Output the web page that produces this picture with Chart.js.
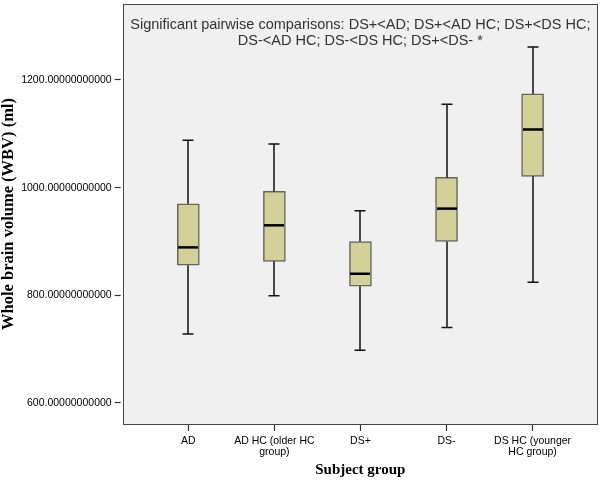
<!DOCTYPE html>
<html>
<head>
<meta charset="utf-8">
<script src="https://cdn.jsdelivr.net/npm/chart.js@4"></script>
<style>
body { margin: 0; background: #fff; }
#wrap { width: 600px; height: 482px; }
</style>
</head>
<body>
<div id="wrap"><canvas id="boxChart"></canvas></div>
<script>
const groups = ["AD", ["AD HC (older HC", "group)"], "DS+", "DS-", ["DS HC (younger", "HC group)"]];
const whiskerMin = [728, 799, 698, 740, 824];
const q1 = [856, 863, 817, 900, 1021];
const median = [889, 930, 840, 961, 1108];
const q3 = [970, 993, 900, 1019, 1174];
const whiskerMax = [1088, 1081, 957, 1155, 1261];
const yTicks = [600, 800, 1000, 1200];
const note = ["Significant pairwise comparisons: DS+<AD; DS+<AD HC; DS+<DS HC;", "DS-<AD HC; DS-<DS HC; DS+<DS- *"];

// background, frame, whiskers, medians and the note inside the plot
const boxExtras = {
    id: "boxExtras",
    beforeDraw(chart) {
        const a = chart.chartArea, ctx = chart.ctx;
        ctx.save();
        ctx.fillStyle = "#f0f0f0";
        ctx.fillRect(a.left, a.top, a.right - a.left, a.bottom - a.top);
        ctx.restore();
    },
    afterDatasetsDraw(chart) {
        const ctx = chart.ctx, x = chart.scales.x, y = chart.scales.y;
        const half = 11, cap = 5.5;
        ctx.save();
        groups.forEach((g, i) => {
            const px = Math.round(x.getPixelForValue(i));
            ctx.strokeStyle = "#111";
            ctx.lineWidth = 1.5;
            ctx.beginPath();
            ctx.moveTo(px, y.getPixelForValue(q3[i]));
            ctx.lineTo(px, y.getPixelForValue(whiskerMax[i]));
            ctx.moveTo(px, y.getPixelForValue(q1[i]));
            ctx.lineTo(px, y.getPixelForValue(whiskerMin[i]));
            ctx.moveTo(px - cap, y.getPixelForValue(whiskerMax[i]));
            ctx.lineTo(px + cap, y.getPixelForValue(whiskerMax[i]));
            ctx.moveTo(px - cap, y.getPixelForValue(whiskerMin[i]));
            ctx.lineTo(px + cap, y.getPixelForValue(whiskerMin[i]));
            ctx.stroke();
            ctx.lineWidth = 2.5;
            ctx.strokeStyle = "#000";
            ctx.beginPath();
            ctx.moveTo(px - half + 1, y.getPixelForValue(median[i]));
            ctx.lineTo(px + half - 1, y.getPixelForValue(median[i]));
            ctx.stroke();
        });
        ctx.restore();
    },
    afterDraw(chart) {
        const a = chart.chartArea, ctx = chart.ctx;
        ctx.save();
        ctx.strokeStyle = "#444";
        ctx.lineWidth = 1;
        ctx.strokeRect(Math.round(a.left) + 0.5, Math.round(a.top) + 0.5, Math.round(a.right - a.left) - 1, Math.round(a.bottom - a.top));
        ctx.fillStyle = "#333";
        ctx.font = "14.5px 'Liberation Sans', Arial, sans-serif";
        ctx.textAlign = "center";
        ctx.textBaseline = "middle";
        const cx = (a.left + a.right) / 2;
        ctx.fillText(note[0], cx, a.top + 21);
        ctx.fillText(note[1], cx, a.top + 37);
        ctx.restore();
    }
};

new Chart(document.getElementById("boxChart"), {
    type: "bar",
    data: {
        datasets: [{
            data: groups.map((g, i) => ({ x: i, y: [q1[i], q3[i]] })),
            backgroundColor: "#d4d09a",
            borderColor: "#666658",
            borderWidth: 1.5,
            borderSkipped: false,
            barThickness: 22
        }]
    },
    options: {
        responsive: true,
        maintainAspectRatio: false,
        animation: false,
        layout: { padding: { top: 1, right: 2, left: 0, bottom: 0 } },
        plugins: { legend: { display: false }, tooltip: { enabled: false } },
        scales: {
            x: {
                type: "linear",
                offset: false,
                min: -0.763,
                max: 4.76,
                afterBuildTicks: scale => { scale.ticks = groups.map((g, i) => ({ value: i })); },
                ticks: {
                    callback: v => groups[v],
                    color: "#000",
                    font: { family: "'Liberation Sans', Arial, sans-serif", size: 10.5, lineHeight: 1.05 },
                    padding: 5,
                    maxRotation: 0,
                    autoSkip: false
                },
                grid: { offset: false, drawOnChartArea: false, tickLength: 7, tickColor: "#333", tickWidth: 1.2 },
                border: { display: false },
                title: {
                    display: true,
                    text: "Subject group",
                    color: "#000",
                    font: { family: "'Liberation Serif', serif", size: 15, weight: "bold", lineHeight: 1 },
                    padding: { top: 0, bottom: 4 }
                }
            },
            y: {
                min: 561,
                max: 1341,
                afterBuildTicks: scale => { scale.ticks = yTicks.map(v => ({ value: v })); },
                ticks: {
                    callback: v => v.toFixed(11),
                    color: "#000",
                    font: { family: "'Liberation Sans', Arial, sans-serif", size: 10.5, lineHeight: 0.2 },
                    padding: 3
                },
                grid: { drawOnChartArea: false, tickLength: 8, tickColor: "#333", tickWidth: 1.2, tickBorderDash: [6, 40] },
                border: { display: false },
                title: {
                    display: true,
                    text: "Whole brain volume (WBV) (ml)",
                    color: "#000",
                    font: { family: "'Liberation Serif', serif", size: 16.5, weight: "bold", lineHeight: 1.1 },
                    padding: { top: 0, bottom: 0 }
                }
            }
        }
    },
    plugins: [boxExtras]
});
</script>
</body>
</html>
